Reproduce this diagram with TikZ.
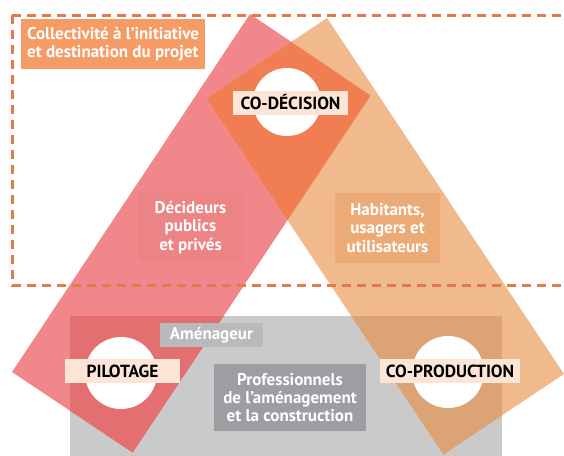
\documentclass[tikz,border=0pt]{standalone}
\usepackage{fontspec}
\setmainfont{PT Sans}
\definecolor{pinkband}{RGB}{242,135,139}
\definecolor{tanband}{RGB}{240,186,140}
\definecolor{overlapc}{RGB}{240,126,82}
\definecolor{graybg}{RGB}{202,202,202}
\definecolor{pinkgray}{RGB}{227,111,112}
\definecolor{tangray}{RGB}{220,163,116}
\definecolor{pinkbox}{RGB}{236,132,134}
\definecolor{tanbox}{RGB}{236,170,118}
\definecolor{amenbox}{RGB}{186,186,188}
\definecolor{probox}{RGB}{157,158,162}
\definecolor{peach}{RGB}{252,228,214}
\definecolor{titlebox}{RGB}{245,155,101}
\definecolor{dashc}{RGB}{226,122,80}
\begin{document}
\begin{tikzpicture}[x=1pt,y=-1pt,
  whitetxt/.style={text=white,font=\bfseries\fontsize{17}{18.3}\selectfont,align=center,inner sep=0pt},
  keylabel/.style={fill=peach,text=black,font=\bfseries\fontsize{17.5}{20}\selectfont,inner sep=0pt,minimum height=24pt},
  hole/.style={fill=white}]
\useasboundingbox (0,0) rectangle (564,455);
% band corners
\coordinate (pD) at (12,372);
\coordinate (pC) at (132.6,452.5);
\coordinate (pB) at (370.6,95.5);
\coordinate (pA) at (250,14);
\coordinate (tD) at (564,374);
\coordinate (tC) at (443.4,454.5);
\coordinate (tB) at (206.4,98.5);
\coordinate (tA) at (327,18);
% gray base
\fill[graybg] (70,316) rectangle (502,460);
% bands
\fill[pinkband] (pD)--(pC)--(pB)--(pA)--cycle;
\fill[tanband] (tD)--(tC)--(tB)--(tA)--cycle;
\begin{scope}
  \clip (pD)--(pC)--(pB)--(pA)--cycle;
  \fill[overlapc] (tD)--(tC)--(tB)--(tA)--cycle;
\end{scope}
\begin{scope}
  \clip (70,316) rectangle (502,460);
  \fill[pinkgray] (pD)--(pC)--(pB)--(pA)--cycle;
  \fill[tangray] (tD)--(tC)--(tB)--(tA)--cycle;
\end{scope}
% holes
\fill[hole] (287,102) circle[radius=34pt];
\fill[hole] (121,373) circle[radius=36pt];
\fill[hole] (448,372) circle[radius=36pt];
% dashed frame
\draw[dashc,line width=3pt,dash pattern=on 9pt off 6pt] (12,15) -- (12,285) -- (575,285);
\draw[dashc,line width=3pt,dash pattern=on 9pt off 6pt] (12,15) -- (575,15);
% labels
\node[fill=titlebox,minimum width=184pt,minimum height=50pt,inner sep=0pt] (title) at (113,44) {};
\node[text=white,font=\bfseries\fontsize{17}{18.6}\selectfont,align=left,inner sep=0pt,anchor=west]
  (titletxt) at (27,44) {Collectivité à l’initiative\\et destination du projet};
\node[fill=pinkbox,whitetxt,minimum width=105pt,minimum height=69pt] (dec) at (190.5,227.5)
  {Décideurs\\publics\\et privés};
\node[fill=tanbox,whitetxt,minimum width=105pt,minimum height=70pt] (hab) at (387.5,228)
  {Habitants,\\usagers et\\utilisateurs};
\node[fill=amenbox,whitetxt,minimum width=103pt,minimum height=24pt] (amen) at (211.5,335)
  {Aménageur};
\node[fill=probox,whitetxt,minimum width=152pt,minimum height=67pt] (pro) at (290,397.5)
  {Professionnels\\de l’aménagement\\et la construction};
\node[keylabel,minimum width=115pt] (codec) at (290.5,102.5) {CO-DÉCISION};
\node[keylabel,minimum width=115pt] (pilot) at (122.5,371) {PILOTAGE};
\node[keylabel,minimum width=140pt] (coprod) at (450,371) {CO-PRODUCTION};
\end{tikzpicture}
\end{document}
